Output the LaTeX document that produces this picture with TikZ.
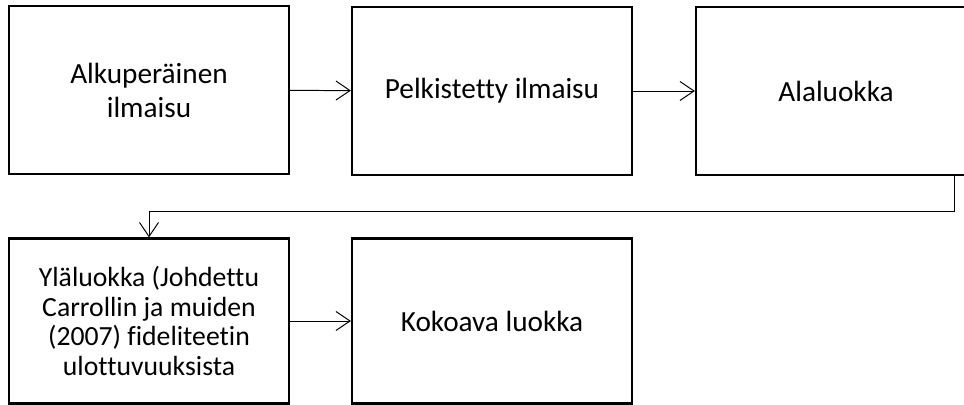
\documentclass[tikz,border=0pt]{standalone}
\usepackage{fontspec}
\setmainfont{Carlito}[Ligatures=NoCommon]
\usetikzlibrary{arrows.meta}

\begin{document}
\begin{tikzpicture}[x=0.025cm,y=-0.025cm,
  box/.style={draw,line width=1.5pt,minimum width=7cm,minimum height=4.2cm,
    align=center,font=\fontsize{20.8}{24.2}\selectfont,inner sep=0pt},
  lowbox/.style={box,minimum height=4.125cm},
  conn/.style={line width=0.7pt,-{Straight Barb[length=10pt,width=13.5pt,line width=0.7pt]}}]
\useasboundingbox (0,0) rectangle (964,405);
\node[box] (orig) at (149,90) {Alkuperäinen\\ilmaisu};
\node[box] (simp) at (492,91) {Pelkistetty ilmaisu};
\node[box] (sub) at (836,91) {Alaluokka};
\node[lowbox,font=\fontsize{19.7}{21.2}\selectfont] (upper) at (149,321) {Yläluokka (Johdettu\\Carrollin ja muiden\\(2007) fideliteetin\\ulottuvuuksista};
\node[lowbox] (main) at (492,321) {Kokoava luokka};
\coordinate (turn) at (954,211);
\draw[conn] (orig) -- (simp);
\draw[conn] (simp) -- (sub);
\draw[conn] (sub.south -| turn) -- (turn) -| (upper.north);
\draw[conn] (upper) -- (main);
\end{tikzpicture}
\end{document}
